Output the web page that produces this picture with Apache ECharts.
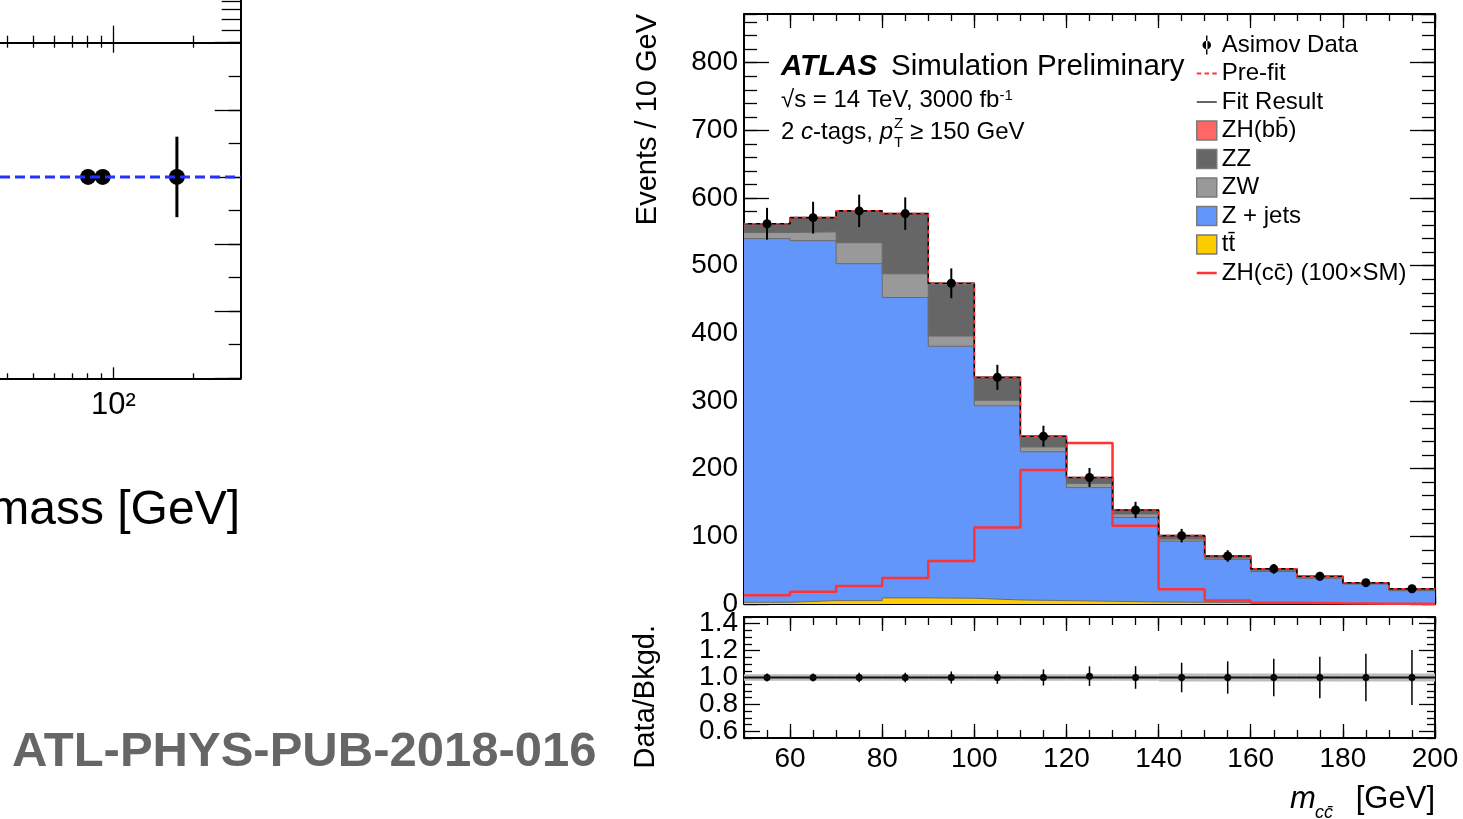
<!DOCTYPE html>
<html>
<head>
<meta charset="utf-8">
<script src="https://cdn.jsdelivr.net/npm/echarts@6/dist/echarts.min.js"></script>
<style>
html, body { margin: 0; padding: 0; background: #fff; }
#container { width: 1463px; height: 819px; }
</style>
</head>
<body>
<div id="container"></div>
<script>
var FONT = 'Liberation Sans';

// m_cc bins, 10 GeV wide
var binEdges = [50, 60, 70, 80, 90, 100, 110, 120, 130, 140, 150, 160, 170, 180, 190, 200];
var binCenters = [55, 65, 75, 85, 95, 105, 115, 125, 135, 145, 155, 165, 175, 185, 195];

// stacked backgrounds
var ttbar = [2.5, 5, 5, 9, 8.5, 6, 5, 4, 3, 2.5, 2, 1.5, 1, 0.8, 0.5];
var zJets = [537.5, 532, 498, 444, 372.5, 287, 220, 168, 125, 90.5, 64, 46.5, 37, 28.7, 19.2];
var zw = [9, 13, 31, 35, 15, 8, 7, 6, 5, 3, 2, 2, 1.5, 1, 1.3];
var zz = [12, 20, 45.5, 87, 76, 32, 14.5, 8, 5, 4.5, 2.5, 1.7, 1.2, 0.8, 1.3];
var zhbb = [1, 1, 1.5, 2, 2, 2, 1.5, 1, 1, 0.5, 0.5, 0.3, 0.3, 0.2, 0.2];
// ZH(cc) x100
var signal = [13, 18, 26.5, 38.5, 63.5, 113, 198, 238, 115.5, 21.7, 5, 2, 1, 0.5, 0.3];
// Asimov data
var asimov = [562, 571, 581, 577, 474, 335, 248, 187, 139, 101, 71, 52, 41, 31.5, 22.5];
var asimovErr = [23.5, 23.5, 24, 24, 22, 18.5, 15.5, 14, 12, 10, 8.5, 7.2, 6.4, 5.6, 4.8];

// ratio panel
var ratio = [1, 1, 1, 1, 1, 1, 1, 1.01, 1, 1, 1, 1, 1, 1, 1];
var ratioErr = [0.03, 0.03, 0.035, 0.035, 0.045, 0.047, 0.06, 0.073, 0.084, 0.11, 0.12, 0.14, 0.154, 0.177, 0.204];
var ratioNominal = [1, 1, 1, 1, 1, 1, 1, 1, 1, 1, 1, 1, 1, 1, 1];
var ratioBand = [0.025, 0.025, 0.025, 0.025, 0.025, 0.025, 0.025, 0.025, 0.025, 0.03, 0.03, 0.03, 0.03, 0.03, 0.03];

// tick labels
var xMajorTicks = [60, 80, 100, 120, 140, 160, 180, 200];
var ratioMajorTicks = [0.6, 0.8, 1.0, 1.2, 1.4];
var ratioLabelsA = [0.6, 1.0, 1.4];
var ratioLabelsB = [0.8, 1.2];
var ratioMinorTicks = [0.55, 0.65, 0.7, 0.75, 0.85, 0.9, 0.95, 1.05, 1.1, 1.15, 1.25, 1.3, 1.35, 1.45];

// cut-off panel on the left (masses of W, Z, top)
var massNames = ['W', 'Z', 't'];
var masses = [80.4, 91.2, 173];
var massVals = [1, 1, 1];
var massErr = [0.02, 0.02, 0.12];
var massRef = 1;
var massRange = [37.6, 300];
var massMajorTicks = [100];
var massMinorTicks = [40, 50, 60, 70, 80, 90, 200];
var upperMinorTicks = [5, 6, 7, 8, 9];

function stepData(vals) {
    return binEdges.map(function (e, i) { return [e, vals[Math.min(i, vals.length - 1)]]; });
}

function addUp(a, b) {
    return a.map(function (v, i) { return v + b[i]; });
}

function tickAxis(grid, pos, o) {
    var ax = {
        gridIndex: grid, position: pos, type: o.type || 'value',
        min: o.min, max: o.max,
        splitLine: {show: false},
        axisLine: {show: !!o.line, onZero: false, lineStyle: {color: '#000', width: 2}},
        axisTick: {show: o.len > 0, inside: true, length: o.len, interval: 0, lineStyle: {color: '#000', width: 1.3}},
        axisLabel: {show: false}
    };
    if (o.type === 'log') ax.logBase = 10;
    if (o.interval) ax.interval = o.interval;
    if (o.ticks) ax.axisTick.customValues = o.ticks;
    if (o.label) ax.axisLabel = o.label;
    return ax;
}

function errorBars(width) {
    return function (params, api) {
        var x = api.value(0), y = api.value(1), e = api.value(2);
        var a = api.coord([x, y + e]);
        var b = api.coord([x, y - e]);
        return {type: 'line', shape: {x1: a[0], y1: a[1], x2: b[0], y2: b[1]},
                style: {stroke: '#000', lineWidth: width}};
    };
}

// cumulative stack, drawn from the top down like ROOT's THStack
var cumTT = ttbar;
var cumZJ = addUp(cumTT, zJets);
var cumZW = addUp(cumZJ, zw);
var cumZZ = addUp(cumZW, zz);
var total = addUp(cumZZ, zhbb);

var labelBase = {show: true, color: '#000', fontFamily: FONT, fontSize: 28, interval: 0, hideOverlap: false};
var ratioFmt = function (v) { return v.toFixed(1); };

var xAxes = [
    // main panel
    tickAxis(0, 'bottom', {min: 50, max: 200, ticks: xMajorTicks, len: 14, line: true}),
    tickAxis(0, 'bottom', {min: 50, max: 200, interval: 5, len: 7}),
    tickAxis(0, 'top', {min: 50, max: 200, ticks: xMajorTicks, len: 14, line: true}),
    tickAxis(0, 'top', {min: 50, max: 200, interval: 5, len: 7}),
    // ratio panel
    tickAxis(1, 'bottom', {min: 50, max: 200, ticks: xMajorTicks, len: 14, line: true,
        label: Object.assign({customValues: xMajorTicks, margin: 7, showMinLabel: true, showMaxLabel: true}, labelBase)}),
    tickAxis(1, 'bottom', {min: 50, max: 200, interval: 5, len: 8}),
    tickAxis(1, 'top', {min: 50, max: 200, ticks: xMajorTicks, len: 14, line: true}),
    tickAxis(1, 'top', {min: 50, max: 200, interval: 5, len: 8}),
    // left mass panel
    tickAxis(2, 'bottom', {type: 'log', min: massRange[0], max: massRange[1], ticks: massMajorTicks, len: 11, line: true,
        label: {show: true, customValues: massMajorTicks, margin: 12, interval: 0,
            fontSize: 31, fontFamily: FONT, color: '#000',
            formatter: function () { return '10²'; }}}),
    tickAxis(2, 'bottom', {type: 'log', min: massRange[0], max: massRange[1], ticks: massMinorTicks, len: 5}),
    tickAxis(2, 'top', {type: 'log', min: massRange[0], max: massRange[1], ticks: massMajorTicks, len: 10, line: true}),
    tickAxis(2, 'top', {type: 'log', min: massRange[0], max: massRange[1], ticks: massMinorTicks, len: 5}),
    // panel above it (only its bottom edge is visible)
    tickAxis(3, 'bottom', {type: 'log', min: massRange[0], max: massRange[1], ticks: massMajorTicks, len: 17, line: true}),
    tickAxis(3, 'bottom', {type: 'log', min: massRange[0], max: massRange[1], ticks: massMinorTicks, len: 7})
];

var yAxes = [
    tickAxis(0, 'left', {min: 0, max: 872, interval: 100, len: 25, line: true,
        label: Object.assign({margin: 6, showMaxLabel: false}, labelBase)}),
    tickAxis(0, 'left', {min: 0, max: 872, interval: 20, len: 13}),
    tickAxis(0, 'right', {min: 0, max: 872, interval: 100, len: 25, line: true}),
    tickAxis(0, 'right', {min: 0, max: 872, interval: 20, len: 13}),

    tickAxis(1, 'left', {min: 0.55, max: 1.45, ticks: ratioMajorTicks, len: 16, line: true,
        label: Object.assign({customValues: ratioLabelsA, margin: 6, showMinLabel: true, showMaxLabel: true,
            formatter: ratioFmt}, labelBase)}),
    tickAxis(1, 'left', {min: 0.55, max: 1.45, ticks: ratioMinorTicks, len: 8}),
    tickAxis(1, 'right', {min: 0.55, max: 1.45, ticks: ratioMajorTicks, len: 16, line: true}),
    tickAxis(1, 'right', {min: 0.55, max: 1.45, ticks: ratioMinorTicks, len: 8}),

    tickAxis(2, 'right', {min: 0.4, max: 1.4, interval: 0.2, len: 26, line: true}),
    tickAxis(2, 'right', {min: 0.4, max: 1.4, interval: 0.1, len: 12}),

    tickAxis(3, 'right', {type: 'log', min: 4.05, max: 22.2, ticks: upperMinorTicks, len: 19, line: true}),

    // second label set for the ratio axis (0.8 and 1.2)
    tickAxis(1, 'left', {min: 0.55, max: 1.45, len: 0,
        label: Object.assign({customValues: ratioLabelsB, margin: 6, showMinLabel: true, showMaxLabel: true,
            formatter: ratioFmt}, labelBase)})
];

var iconData = 'path://M4,0h1.5v20h-1.5z M0.25,10a4.5,4.5 0 1,0 9,0a4.5,4.5 0 1,0 -9,0z';
var iconDash = 'path://M0,0h4v2h-4z M7,0h4v2h-4z M14,0h4v2h-4z';
var iconLine = 'path://M0,0h20v1.5h-20z';
var iconSig = 'path://M0,0h20v2.5h-20z';
var boxStyle = function (c) { return {color: c, borderColor: '#7a7a7a', borderWidth: 1.5}; };

function fillSeries(name, cum, fill) {
    return {
        name: name, type: 'line', xAxisIndex: 0, yAxisIndex: 0, step: 'end',
        symbol: 'none', color: fill, data: stepData(cum),
        lineStyle: {color: '#6a6a6a', width: 1}, areaStyle: {color: fill, opacity: 1, origin: 'start'}
    };
}

var myChart = echarts.init(document.getElementById('container'));
var option = {
    animation: false,
    backgroundColor: '#fff',
    grid: [
        {left: 744, top: 14, width: 691, height: 590, outerBoundsMode: 'none'},
        {left: 744, top: 617, width: 691, height: 121, outerBoundsMode: 'none'},
        {left: 0, top: 42.7, width: 240.7, height: 335.6, outerBoundsMode: 'none'},
        {left: 0, top: -60, width: 240.7, height: 102.7, outerBoundsMode: 'none'}
    ],
    xAxis: xAxes,
    yAxis: yAxes,
    legend: {
        orient: 'vertical', left: 1196, top: 33, padding: 0,
        itemWidth: 20, itemHeight: 19, itemGap: 4.5, selectedMode: false,
        textStyle: {fontFamily: FONT, fontSize: 24, color: '#000', lineHeight: 19},
        data: [
            {name: 'Asimov Data', icon: iconData, itemStyle: {color: '#000', borderWidth: 0}},
            {name: 'Pre-fit', icon: iconDash, itemStyle: {color: '#ff3333', borderWidth: 0}},
            {name: 'Fit Result', icon: iconLine, itemStyle: {color: '#333', borderWidth: 0}},
            {name: 'ZH(bb\u0304)', icon: 'rect', itemStyle: boxStyle('#ff6666')},
            {name: 'ZZ', icon: 'rect', itemStyle: boxStyle('#666666')},
            {name: 'ZW', icon: 'rect', itemStyle: boxStyle('#999999')},
            {name: 'Z + jets', icon: 'rect', itemStyle: boxStyle('#6396fa')},
            {name: 'tt\u0304', icon: 'rect', itemStyle: boxStyle('#ffcc00')},
            {name: 'ZH(cc\u0304) (100×SM)', icon: iconSig, itemStyle: {color: '#ff3333', borderWidth: 0}}
        ]
    },
    graphic: [
        {type: 'text', x: 12, y: 752, silent: true,
         style: {text: 'ATL-PHYS-PUB-2018-016', fontFamily: FONT, fontSize: 49, fontWeight: 'bold', fill: '#666',
                 align: 'left', verticalAlign: 'middle'}},
        {type: 'text', x: 240, y: 511, silent: true,
         style: {text: 'mass [GeV]', fontFamily: FONT, fontSize: 48, fill: '#000', align: 'right', verticalAlign: 'middle'}},
        {type: 'text', x: 648, y: 14, rotation: Math.PI / 2, silent: true,
         style: {text: 'Events / 10 GeV', fontFamily: FONT, fontSize: 29, fill: '#000', align: 'right', verticalAlign: 'middle'}},
        {type: 'text', x: 646, y: 625, rotation: Math.PI / 2, silent: true,
         style: {text: 'Data/Bkgd.', fontFamily: FONT, fontSize: 29, fill: '#000', align: 'right', verticalAlign: 'middle'}},
        {type: 'text', x: 781, y: 67, silent: true,
         style: {text: 'ATLAS', fontFamily: FONT, fontSize: 29.5, fontWeight: 'bold', fontStyle: 'italic', fill: '#000',
                 align: 'left', verticalAlign: 'middle'}},
        {type: 'text', x: 891, y: 67, silent: true,
         style: {text: 'Simulation Preliminary', fontFamily: FONT, fontSize: 29.5, fill: '#000', align: 'left', verticalAlign: 'middle'}},
        {type: 'text', x: 781, y: 100, silent: true,
         style: {text: '√s = 14 TeV, 3000 fb{sup|-1}', fontFamily: FONT, fontSize: 24, lineHeight: 24, fill: '#000',
                 align: 'left', verticalAlign: 'middle',
                 rich: {sup: {fontFamily: FONT, fontSize: 15, lineHeight: 15, fill: '#000', verticalAlign: 'top'}}}},
        {type: 'text', x: 781, y: 132, silent: true,
         style: {text: '2 {it|c}-tags, {it|p}', fontFamily: FONT, fontSize: 24, lineHeight: 24, fill: '#000',
                 align: 'left', verticalAlign: 'middle',
                 rich: {it: {fontFamily: FONT, fontSize: 24, fontStyle: 'italic', fill: '#000'}}}},
        {type: 'text', x: 894, y: 124, silent: true,
         style: {text: 'Z', fontFamily: FONT, fontSize: 15, fill: '#000', align: 'left', verticalAlign: 'middle'}},
        {type: 'text', x: 894, y: 143, silent: true,
         style: {text: 'T', fontFamily: FONT, fontSize: 15, fill: '#000', align: 'left', verticalAlign: 'middle'}},
        {type: 'text', x: 910, y: 132, silent: true,
         style: {text: '≥ 150 GeV', fontFamily: FONT, fontSize: 24, fill: '#000', align: 'left', verticalAlign: 'middle'}},
        {type: 'text', x: 1290, y: 799, silent: true,
         style: {text: 'm', fontFamily: FONT, fontSize: 31, fontStyle: 'italic', fill: '#000', align: 'left', verticalAlign: 'middle'}},
        {type: 'text', x: 1315, y: 813, silent: true,
         style: {text: 'cc\u0304', fontFamily: FONT, fontSize: 18, fontStyle: 'italic', fill: '#000', align: 'left', verticalAlign: 'middle'}},
        {type: 'text', x: 1435, y: 799, silent: true,
         style: {text: '[GeV]', fontFamily: FONT, fontSize: 31, fill: '#000', align: 'right', verticalAlign: 'middle'}}
    ],
    series: [
        fillSeries('ZH(bb\u0304)', total, '#ff6666'),
        fillSeries('ZZ', cumZZ, '#666666'),
        fillSeries('ZW', cumZW, '#999999'),
        fillSeries('Z + jets', cumZJ, '#6396fa'),
        fillSeries('tt\u0304', cumTT, '#ffcc00'),
        {
            name: 'ZH(cc\u0304) (100×SM)', type: 'line', xAxisIndex: 0, yAxisIndex: 0, step: 'end', symbol: 'none',
            color: '#ff3333', data: stepData(signal), lineStyle: {color: '#ff3333', width: 2.5}
        },
        {
            name: 'Fit Result', type: 'line', xAxisIndex: 0, yAxisIndex: 0, step: 'end', symbol: 'none',
            color: '#000', data: stepData(total), lineStyle: {color: '#000', width: 1.6}
        },
        {
            name: 'Pre-fit', type: 'line', xAxisIndex: 0, yAxisIndex: 0, step: 'end', symbol: 'none',
            color: '#ff3333', data: stepData(total), lineStyle: {color: '#ff3333', width: 1.6, type: [4, 4]}
        },
        {
            type: 'custom', xAxisIndex: 0, yAxisIndex: 0, renderItem: errorBars(2), z: 5,
            data: binCenters.map(function (c, i) { return [c, asimov[i], asimovErr[i]]; })
        },
        {
            name: 'Asimov Data', type: 'scatter', xAxisIndex: 0, yAxisIndex: 0, symbol: 'circle', symbolSize: 9, z: 6,
            itemStyle: {color: '#000', opacity: 1},
            data: binCenters.map(function (c, i) { return [c, asimov[i]]; })
        },

        // ratio panel
        {
            type: 'custom', xAxisIndex: 4, yAxisIndex: 4,
            renderItem: function (params, api) {
                var a = api.coord([api.value(0), api.value(2) + api.value(3)]);
                var b = api.coord([api.value(1), api.value(2) - api.value(3)]);
                return {type: 'rect', shape: {x: a[0], y: a[1], width: b[0] - a[0], height: b[1] - a[1]},
                        style: {fill: '#bdbdbd'}};
            },
            data: binCenters.map(function (c, i) { return [binEdges[i], binEdges[i + 1], ratioNominal[i], ratioBand[i]]; })
        },
        {
            type: 'line', xAxisIndex: 4, yAxisIndex: 4, step: 'end', symbol: 'none',
            data: stepData(ratioNominal), lineStyle: {color: '#111', width: 2}
        },
        {
            type: 'custom', xAxisIndex: 4, yAxisIndex: 4, renderItem: errorBars(1.5),
            data: binCenters.map(function (c, i) { return [c, ratio[i], ratioErr[i]]; })
        },
        {
            type: 'scatter', xAxisIndex: 4, yAxisIndex: 4, symbolSize: 7, itemStyle: {color: '#000', opacity: 1},
            data: binCenters.map(function (c, i) { return [c, ratio[i]]; })
        },

        // left mass panel
        {
            type: 'line', xAxisIndex: 8, yAxisIndex: 8, symbol: 'none',
            data: [[massRange[0], massRef], [massRange[1], massRef]],
            lineStyle: {color: '#2233ff', width: 3, type: [10, 5]}
        },
        {
            type: 'custom', xAxisIndex: 8, yAxisIndex: 8, renderItem: errorBars(3),
            data: masses.map(function (m, i) { return [m, massVals[i], massErr[i]]; })
        },
        {
            type: 'scatter', xAxisIndex: 8, yAxisIndex: 8, symbolSize: 16, itemStyle: {color: '#000', opacity: 1},
            data: masses.map(function (m, i) { return {name: massNames[i], value: [m, massVals[i]]}; })
        }
    ]
};
myChart.setOption(option);
</script>
</body>
</html>
